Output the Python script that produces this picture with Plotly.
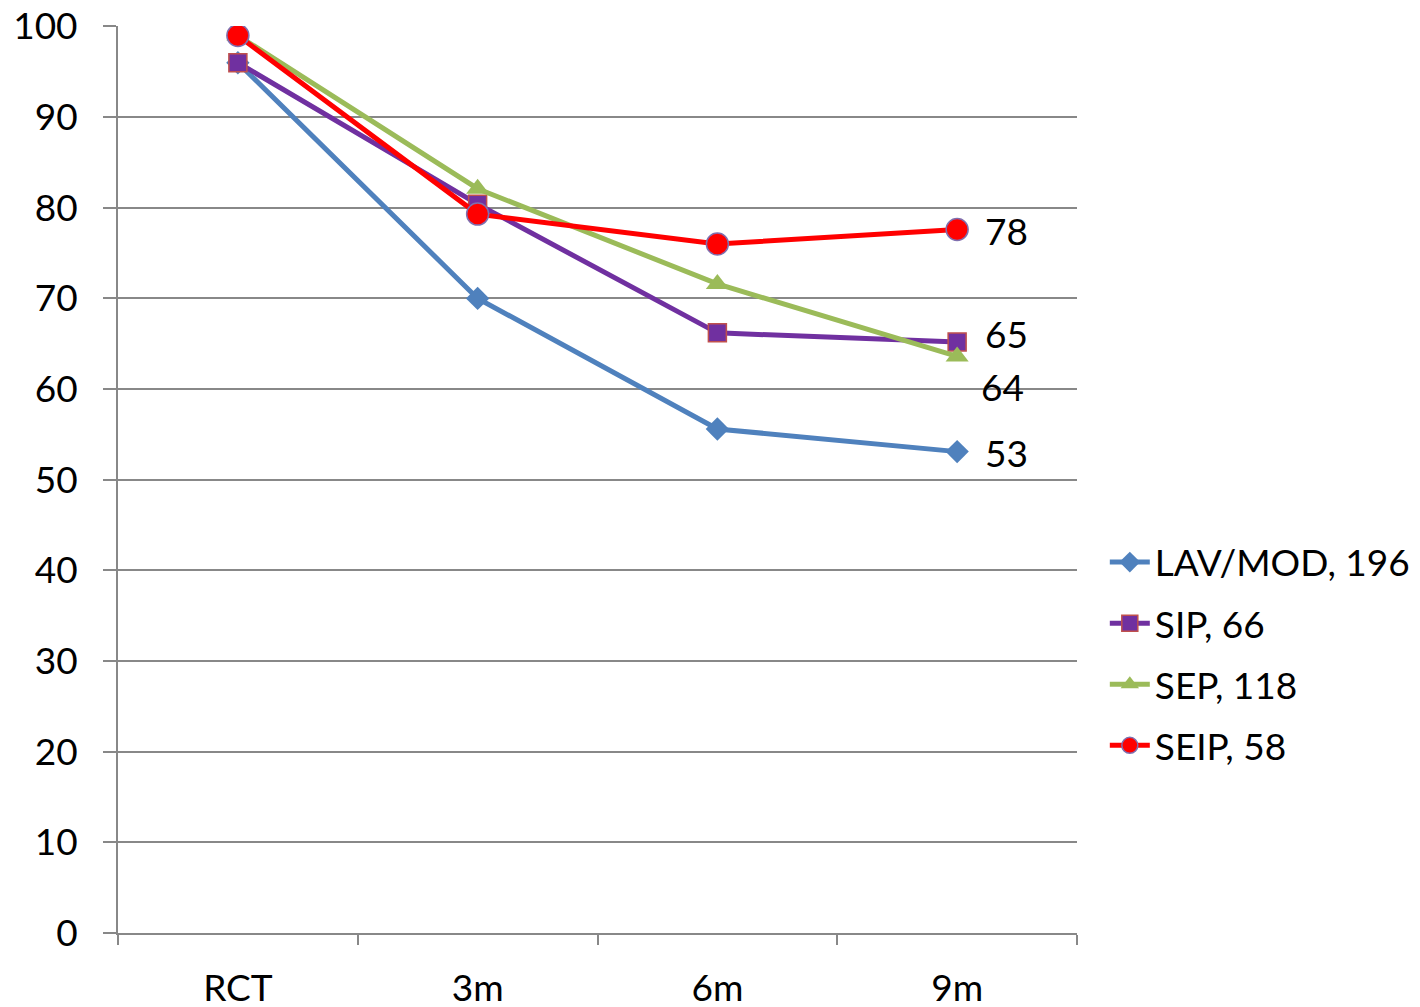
import plotly.graph_objects as go

categories = ["RCT", "3m", "6m", "9m"]
lav_mod = [96, 70, 55.6, 53.1]
sip = [96, 80.4, 66.2, 65.2]
sep = [99, 82.1, 71.6, 63.6]
seip = [99, 79.3, 76.0, 77.6]

series = [
    ("LAV/MOD, 196", lav_mod, "#4F81BD", dict(symbol="diamond", size=18, color="#4F81BD", line=dict(width=0))),
    ("SIP, 66", sip, "#7030A0", dict(symbol="square", size=18, color="#7030A0", line=dict(width=1.5, color="#C0504D"))),
    ("SEP, 118", sep, "#9BBB59", dict(symbol="triangle-up", size=20, color="#9BBB59", line=dict(width=0))),
    ("SEIP, 58", seip, "#FF0000", dict(symbol="circle", size=22, color="#FF0000", line=dict(width=1.5, color="#7F6FAF"))),
]

FONT = "Lato, Carlito, Calibri, sans-serif"
FS = 37

fig = go.Figure()
for i, (name, vals, col, mk) in enumerate(series):
    fig.add_trace(go.Scatter(x=categories, y=vals, name=name, mode="lines+markers",
                             legendgroup="g%d" % i,
                             line=dict(color=col, width=5), marker=mk))

# data labels on last point
label_shifts = {"LAV/MOD, 196": (26, -1), "SIP, 66": (26, 8), "SEP, 118": (22, -30), "SEIP, 58": (26, -1)}
for name, vals, col, mk in series:
    dx, dy = label_shifts[name]
    fig.add_annotation(x=categories[-1], y=vals[-1], text=str(round(vals[-1])), showarrow=False,
                       xanchor="left", yanchor="middle", xshift=dx, yshift=dy,
                       font=dict(size=FS, color="black", family=FONT))

fig.update_layout(
    width=1420, height=1007,
    margin=dict(l=110, r=351, t=18, b=82),
    plot_bgcolor="white", paper_bgcolor="white",
    font=dict(family=FONT, size=FS, color="black"),
    showlegend=True,
    legend=dict(x=1.029, y=0.3076, xanchor="left", yanchor="middle", font=dict(size=FS),
                tracegroupgap=10, itemwidth=40, bgcolor="rgba(0,0,0,0)"),
)
fig.update_xaxes(type="category", range=[-0.5, 3.5], tickson="boundaries", ticks="outside",
                 ticklen=10, tickcolor="#888888", tickwidth=2, showline=True, linecolor="#888888",
                 linewidth=2, showgrid=False, tickfont=dict(size=FS), ticklabelstandoff=22,
                 automargin=False, ticklabeloverflow="allow")
fig.update_yaxes(range=[0, 100.05], tickvals=list(range(0, 101, 10)), ticks="outside", ticklen=13,
                 tickcolor="#888888",
                 tickwidth=2, showline=True, linecolor="#888888", linewidth=2, showgrid=True,
                 gridcolor="#888888", gridwidth=2, zeroline=False, tickfont=dict(size=FS),
                 ticklabelstandoff=18, automargin=False, ticklabeloverflow="allow")

fig.write_html("out.html")
